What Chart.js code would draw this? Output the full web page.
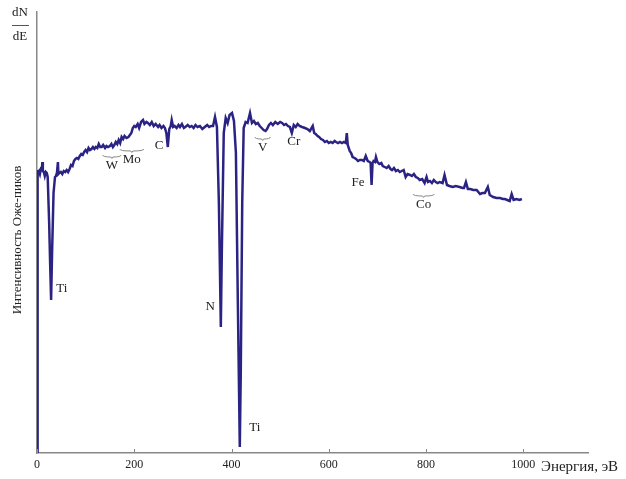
<!DOCTYPE html>
<html>
<head>
<meta charset="utf-8">
<script src="https://cdn.jsdelivr.net/npm/chart.js@4.4.0/dist/chart.umd.min.js"></script>
<style>
  body { margin: 0; background: #fff; }
  #wrap { width: 626px; height: 479px; }
</style>
</head>
<body>
<div id="wrap"><canvas id="chart"></canvas></div>
<script>
// energy, eV
var energy = [
  0, 0.5, 2, 4, 6, 8, 10, 11, 12, 14, 16, 18, 20, 22, 25, 27, 29, 31, 34, 37, 39, 41, 43, 44,
  46, 49, 52, 55, 58, 61, 64, 67, 70, 73, 76, 79, 82, 85, 88, 91, 94, 97, 100, 103, 106, 109, 112, 115, 118, 121, 124, 127, 130,
  133, 136, 140, 143, 146, 150, 153, 156, 159, 162, 165, 168, 171, 174, 177, 180, 184, 188, 191, 194, 197, 200,
  203, 207, 210, 214, 218, 221, 225, 228, 232, 236, 240, 244, 249, 252, 256, 260, 263, 266, 269, 272, 275, 277, 280, 283, 287, 291, 294, 298, 302,
  305, 310, 314, 318, 322, 326, 330, 335, 340, 345, 350, 354, 358, 362, 366,
  370, 374, 378, 380, 384, 388, 392, 396, 401, 405, 409, 413, 417, 419, 422, 425, 429, 433, 438,
  442, 446, 450, 454, 458, 462, 466, 470, 473, 477, 481, 485, 490, 495, 500, 504, 508, 512, 516, 520, 524, 528, 532, 536, 540, 545, 551, 556, 561,
  567, 570, 573, 577, 580, 584, 588, 592, 596, 600, 604, 608, 612, 615, 619, 623, 627, 631, 635, 637,
  639, 643, 646, 649, 653, 656, 660, 664, 668, 672, 676, 680, 684, 686, 688, 690, 692, 695, 697, 700,
  704, 708, 711, 715, 719, 723, 727, 730, 734, 738, 742, 746, 750, 754, 758, 762, 767, 771, 775, 779,
  783, 787, 792, 797, 801, 804, 808, 812, 816, 820, 824, 828, 834, 838, 843, 848, 855, 861, 869, 875,
  878, 882, 886, 891, 897, 904, 911, 916, 921, 927, 931, 938, 945, 952, 958, 962, 967, 972, 976, 980,
  986, 992, 997
];
// dN/dE, arbitrary units
var intensity = [
  0, 283, 280, 282, 279, 284, 283, 291, 282, 281, 277, 281, 280, 276, 230, 190, 153, 200, 260, 276, 277, 280, 291, 279,
  280, 281, 279, 282, 281, 283, 281, 284, 288, 287, 292, 294, 295, 294, 297, 299, 298, 301, 303, 301, 305, 303, 304, 306, 304, 306, 305, 309, 306,
  306, 308, 305, 307, 306, 307, 309, 306, 308, 311, 309, 313, 310, 316, 314, 317, 315, 316, 318, 320, 325, 327,
  326, 329, 325, 331, 333, 329, 331, 330, 328, 331, 327, 329, 326, 328, 325, 327, 325, 320, 306, 324, 327, 333, 326, 327, 325, 328, 326, 329, 325,
  326, 328, 326, 327, 325, 328, 326, 327, 324, 326, 328, 326, 327, 327, 336,
  326, 250, 126, 200, 320, 335, 330, 338, 340, 332, 300, 150, 6, 80, 250, 325, 331, 330, 340,
  330, 332, 329, 330, 327, 325, 323, 322, 324, 328, 330, 328, 331, 329, 331, 330, 328, 329, 327, 326, 320, 328, 326, 329, 327, 326, 325, 324, 322,
  327, 320, 319, 317, 316, 314, 313, 311, 312, 310, 311, 310, 312, 311, 310, 311, 310, 311, 310, 320,
  308, 302, 300, 296, 295, 294, 292, 293, 293, 292, 297, 292, 291, 290, 268, 290, 292, 291, 296, 291,
  289, 290, 287, 286, 285, 287, 284, 283, 285, 282, 283, 281, 282, 283, 276, 279, 278, 277, 279, 276,
  275, 273, 274, 270, 276, 271, 272, 270, 273, 271, 270, 271, 270, 278, 268, 267, 266, 267, 266, 265,
  265, 271, 264, 264, 263, 263, 259, 260, 260, 266, 258, 256, 255, 255, 254, 254, 253, 252, 259, 253,
  254, 253, 254
];
var xTicks = [0, 200, 400, 600, 800, 1000];

// peak labels: element, energy and intensity where the label sits, brace over it
var peakNames = ['Ti', 'N', 'Ti', 'W', 'Mo', 'C', 'V', 'Cr', 'Fe', 'Co'];
var peakEnergy = [51, 356, 448, 154, 195, 251, 464, 528, 660, 795];
var peakLevel = [164, 146, 25, 287, 293, 307, 305, 311, 270, 248];
var peakBrace = [false, false, false, true, true, false, true, false, false, true];

var points = energy.map(function (e, i) { return { x: e, y: intensity[i] }; });

var serif = '"Liberation Serif", "DejaVu Serif", serif';

var decor = {
  id: 'decor',
  afterDraw: function (chart) {
    var ctx = chart.ctx;
    var xs = chart.scales.x, ys = chart.scales.y;
    var area = chart.chartArea;
    ctx.save();
    // small tick marks above the x axis
    ctx.strokeStyle = '#888';
    ctx.lineWidth = 1;
    xTicks.forEach(function (t) {
      var px = Math.round(xs.getPixelForValue(t)) + 0.5;
      ctx.beginPath();
      ctx.moveTo(px, area.bottom);
      ctx.lineTo(px, area.bottom - 4);
      ctx.stroke();
    });

    ctx.fillStyle = '#222';
    ctx.font = '13px ' + serif;
    ctx.textBaseline = 'middle';
    ctx.textAlign = 'center';
    for (var i = 0; i < peakNames.length; i++) {
      var px = xs.getPixelForValue(peakEnergy[i]);
      var py = ys.getPixelForValue(peakLevel[i]);
      ctx.fillText(peakNames[i], px, py);
      if (peakBrace[i]) {
        var w = ctx.measureText(peakNames[i]).width / 2 + 3;
        var by = py - 9;
        ctx.strokeStyle = '#888';
        ctx.beginPath();
        ctx.moveTo(px - w, by - 2);
        ctx.quadraticCurveTo(px - w, by, px - 1, by);
        ctx.lineTo(px, by + 1.5);
        ctx.lineTo(px + 1, by);
        ctx.quadraticCurveTo(px + w, by, px + w, by - 2);
        ctx.stroke();
      }
    }

    // axis titles
    ctx.textAlign = 'left';
    ctx.font = '15px ' + serif;
    ctx.fillText('Энергия, эВ', 541, 467);
    ctx.font = '13px ' + serif;
    ctx.textAlign = 'center';
    ctx.fillText('dN', 20, 13);
    ctx.fillText('dE', 20, 37);
    ctx.strokeStyle = '#555';
    ctx.beginPath();
    ctx.moveTo(12, 25.5);
    ctx.lineTo(29, 25.5);
    ctx.stroke();
    ctx.translate(18, 240);
    ctx.rotate(-Math.PI / 2);
    ctx.fillText('Интенсивность Оже-пиков', 0, 0);
    ctx.restore();
  }
};

new Chart(document.getElementById('chart'), {
  type: 'line',
  data: {
    datasets: [{
      data: points,
      borderColor: '#2b2383',
      borderWidth: 2.5,
      pointRadius: 0,
      tension: 0,
      fill: false
    }]
  },
  options: {
    responsive: true,
    maintainAspectRatio: false,
    animation: false,
    layout: { padding: { left: 37, top: 12, right: 38, bottom: 0 } },
    plugins: { legend: { display: false }, tooltip: { enabled: false } },
    scales: {
      x: {
        type: 'linear',
        min: 0,
        max: 1133,
        afterBuildTicks: function (axis) {
          axis.ticks = xTicks.map(function (v) { return { value: v }; });
        },
        afterFit: function (axis) { axis.height = 26; },
        ticks: {
          color: '#222',
          font: { family: serif, size: 12 },
          padding: 5,
          maxRotation: 0,
          callback: function (v) { return String(v); }
        },
        grid: { display: false, drawTicks: false },
        border: { color: '#888', width: 1.5 }
      },
      y: {
        min: 0,
        max: 441,
        ticks: { display: false },
        grid: { display: false, drawTicks: false },
        border: { color: '#888', width: 1.5 }
      }
    }
  },
  plugins: [decor]
});
</script>
</body>
</html>
